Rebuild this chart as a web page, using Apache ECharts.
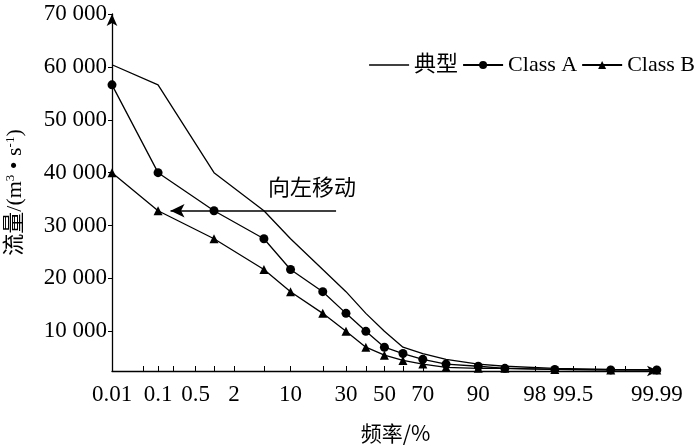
<!DOCTYPE html>
<html><head><meta charset="utf-8">
<script src="https://cdn.jsdelivr.net/npm/echarts@6/dist/echarts.min.js"></script>
<style>html,body{margin:0;padding:0;background:#fff}#c{width:700px;height:448px}</style>
</head><body><div id="c"></div>
<script>
var freqs = [0.01,0.1,1,5,10,20,30,40,50,60,70,80,90,95,99,99.9,99.99];
var typical = [60400,56600,40000,32800,27500,21700,17500,13400,10000,7000,5800,4700,3800,3400,3000,2800,2700];
var classA = [56600,40000,32800,27500,21700,17500,13400,10000,7000,5800,4700,3800,3400,3000,2800,2700,2700];
var classB = [40000,32800,27500,21700,17500,13400,10000,7000,5500,4500,3800,3200,3000,3000,2800,2700,2700];
var xLabels = [0.01,0.1,0.5,2,10,30,50,70,90,98,99.5,99.99];
var xTicks = [0.05,0.1,0.2,0.5,1,2,5,10,20,30,40,50,60,70,80,90,95,98,99,99.5,99.8,99.9,99.95];
var yTicks = [10000,20000,30000,40000,50000,60000,70000];

function qnorm(p){
  var a=[-3.969683028665376e+01,2.209460984245205e+02,-2.759285104469687e+02,1.383577518672690e+02,-3.066479806614716e+01,2.506628277459239e+00];
  var b=[-5.447609879822406e+01,1.615858368580409e+02,-1.556989798598866e+02,6.680131188771972e+01,-1.328068155288572e+01];
  var c=[-7.784894002430293e-03,-3.223964580411365e-01,-2.400758277161838e+00,-2.549732539343734e+00,4.374664141464968e+00,2.938163982698783e+00];
  var d=[7.784695709041462e-03,3.224671290700398e-01,2.445134137142996e+00,3.754408661907416e+00];
  var pl=0.02425,q,r;
  if(p<pl){q=Math.sqrt(-2*Math.log(p));return (((((c[0]*q+c[1])*q+c[2])*q+c[3])*q+c[4])*q+c[5])/((((d[0]*q+d[1])*q+d[2])*q+d[3])*q+1);}
  if(p>1-pl){q=Math.sqrt(-2*Math.log(1-p));return -(((((c[0]*q+c[1])*q+c[2])*q+c[3])*q+c[4])*q+c[5])/((((d[0]*q+d[1])*q+d[2])*q+d[3])*q+1);}
  q=p-0.5;r=q*q;return (((((a[0]*r+a[1])*r+a[2])*r+a[3])*r+a[4])*r+a[5])*q/(((((b[0]*r+b[1])*r+b[2])*r+b[3])*r+b[4])*r+1);
}
function z(f){return qnorm(f/100);}
function pts(v){return freqs.map(function(f,i){return [z(f),v[i]];});}
var labelZ = xLabels.map(z);
function labelFor(val){var best=0,bd=1e9;labelZ.forEach(function(zz,i){var dd=Math.abs(zz-val);if(dd<bd){bd=dd;best=i;}});return String(xLabels[best]);}

var serif = 'Liberation Serif, Noto Sans CJK SC, serif';
var FS = 23;
var chart = echarts.init(document.getElementById('c'));
var ls = {color:'#000',width:1.3};
chart.setOption({
  animation:false,
  textStyle:{fontFamily:serif,color:'#000'},
  grid:{left:112,right:41,top:14,bottom:77,outerBoundsMode:'none',containLabel:false},
  legend:{right:0,top:49,itemWidth:40,itemHeight:10,itemGap:4,
    textStyle:{fontFamily:serif,fontSize:22,color:'#000'},
    data:[{name:'典型',icon:'path://M0,0 L40,0 L40,1.3 L0,1.3 Z'},'Class A','Class B']},
  xAxis:{type:'value',min:z(0.01),max:z(99.99)+0.03,
    name:'频率/%',nameLocation:'middle',nameGap:52,
    nameTextStyle:{fontFamily:'Noto Sans CJK SC',fontSize:21,color:'#000',padding:[0,0,0,20]},
    axisLine:{show:true,onZero:false,symbol:['none','arrow'],symbolSize:[8,12],lineStyle:{color:'#000',width:1.3}},
    axisTick:{show:true,inside:true,length:5,customValues:xTicks.map(z),lineStyle:{color:'#000'}},
    axisLabel:{customValues:labelZ,formatter:labelFor,fontSize:FS,color:'#000',margin:12,fontFamily:serif},
    splitLine:{show:false}},
  yAxis:{type:'value',min:2500,max:70000,
    name:'{a|流量/(m}{s|3}{a| • s}{s|-1}{a|)}',nameLocation:'middle',nameGap:86,nameRotate:90,
    nameTextStyle:{rich:{a:{fontFamily:serif,fontSize:22,color:'#000'},s:{fontFamily:serif,fontSize:13,color:'#000',verticalAlign:'top',padding:[0,0,9,0]}}},
    axisLine:{show:true,onZero:false,symbol:['none','arrow'],symbolSize:[8,12],lineStyle:{color:'#000',width:1.3}},
    axisTick:{show:true,inside:false,length:4,customValues:yTicks,lineStyle:{color:'#000'}},
    axisLabel:{customValues:yTicks,fontSize:FS,color:'#000',margin:5,fontFamily:serif,
      formatter:function(v){return String(v/1000)+' 000';}},
    splitLine:{show:false}},
  graphic:[{type:'text',left:268,top:176,style:{text:'向左移动',font:'22px "Noto Sans CJK SC"',fill:'#000'}}],
  series:[
    {name:'典型',type:'line',data:pts(typical),symbol:'none',lineStyle:ls,itemStyle:{color:'#000'}},
    {name:'Class A',type:'line',data:pts(classA),symbol:'circle',symbolSize:9,lineStyle:ls,itemStyle:{color:'#000'}},
    {name:'Class B',type:'line',data:pts(classB),symbol:'triangle',symbolSize:9,lineStyle:ls,itemStyle:{color:'#000'},
      markLine:{silent:true,symbol:['none','arrow'],symbolSize:[10,14],label:{show:false},lineStyle:{color:'#000',width:1.5,type:'solid'},
        data:[[{coord:[-0.66,32800]},{coord:[-2.92,32800]}]]}}
  ]
});
</script></body></html>
